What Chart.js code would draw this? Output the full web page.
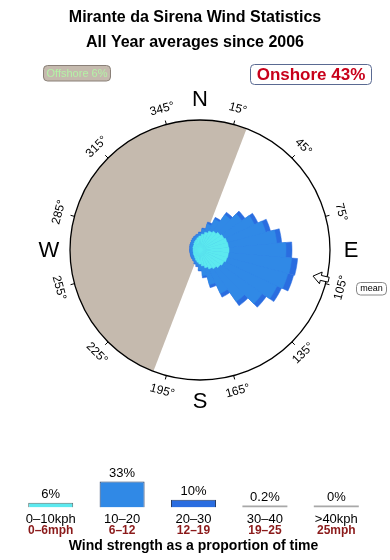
<!DOCTYPE html>
<html>
<head>
<meta charset="utf-8">
<title>Mirante da Sirena Wind Statistics</title>
<script src="https://cdn.jsdelivr.net/npm/chart.js@4/dist/chart.umd.min.js"></script>
<style>
  html, body { margin: 0; padding: 0; background: #fff; }
  #wrap { position: relative; width: 390px; height: 560px; overflow: hidden; }
  #rose { position: absolute; left: 0; top: 0; }
  #strength { position: absolute; left: 0; top: 455px; }
</style>
</head>
<body>
<div id="wrap">
  <canvas id="rose" width="390" height="560"></canvas>
  <canvas id="strength" width="390" height="105"></canvas>
</div>
<script>
const titleLines = ['Mirante da Sirena Wind Statistics', 'All Year averages since 2006'];

// sectors, degrees clockwise from north
const directions = [0, 10, 20, 30, 40, 50, 60, 70, 80, 90, 100, 110, 120, 130, 140, 150, 160, 170,
  180, 190, 200, 210, 220, 230, 240, 250, 260, 270, 280, 290, 300, 310, 320, 330, 340, 350];

// cumulative share of time per sector (outer ring = 13)
const upTo10 = [1.4, 1.6, 1.85, 2.1, 2.3, 2.5, 2.65, 2.8, 2.85, 2.9, 2.85, 2.8, 2.65, 2.5, 2.3, 2.1, 1.85, 1.6,
  1.4, 1.25, 1.1, 0.95, 0.85, 0.8, 0.75, 0.7, 0.7, 0.7, 0.7, 0.75, 0.75, 0.8, 0.9, 1.0, 1.1, 1.25];
const upTo20 = [1.7, 2.1, 2.7, 3.4, 4.3, 5.1, 6.0, 6.8, 7.7, 8.6, 9.2, 9.1, 8.5, 7.6, 6.3, 4.8, 3.6, 2.6,
  2.0, 1.6, 1.4, 1.25, 1.15, 1.1, 1.05, 1.0, 1.0, 1.0, 1.0, 1.05, 1.1, 1.15, 1.25, 1.35, 1.45, 1.55];
const upTo30 = [1.8, 2.2, 2.9, 3.6, 4.6, 5.5, 6.4, 7.3, 8.2, 9.2, 9.8, 9.7, 9.0, 8.1, 6.8, 5.2, 3.9, 2.8,
  2.1, 1.7, 1.5, 1.3, 1.2, 1.15, 1.1, 1.05, 1.05, 1.05, 1.05, 1.1, 1.15, 1.2, 1.3, 1.4, 1.5, 1.6];
const ringMax = 13;

const offshoreFrom = 201;
const offshoreTo = 21;
const offshorePct = 6;
const onshorePct = 43;
const meanDirection = 103;
const compassTicks = [15, 45, 75, 105, 135, 165, 195, 225, 255, 285, 315, 345];
const cardinals = [['N', 0], ['E', 90], ['S', 180], ['W', 270]];

// bottom strip
const strengthKph = ['0–10kph', '10–20', '20–30', '30–40', '>40kph'];
const strengthMph = ['0–6mph', '6–12', '12–19', '19–25', '25mph'];
const strengthPct = [6, 33, 10, 0.2, 0];
const strengthTitle = 'Wind strength as a proportion of time';

const cyan = '#5ce9ef';
const blue = '#3089e6';
const darkBlue = '#2a6de0';
const sans = '"Liberation Sans", Arial, Helvetica, sans-serif';

Chart.defaults.font.family = sans;

const rad = deg => (deg - 90) * Math.PI / 180;

function badge(ctx, x, y, w, h, fill, stroke) {
  ctx.beginPath();
  ctx.roundRect(x, y, w, h, 4);
  ctx.fillStyle = fill;
  ctx.fill();
  ctx.strokeStyle = stroke;
  ctx.lineWidth = 1;
  ctx.stroke();
}

const roseDecor = {
  id: 'roseDecor',
  beforeDraw(chart) {
    const r = chart.scales.r;
    const ctx = chart.ctx;
    ctx.save();
    ctx.fillStyle = '#c5baae';
    ctx.beginPath();
    ctx.moveTo(r.xCenter, r.yCenter);
    ctx.arc(r.xCenter, r.yCenter, r.drawingArea, rad(offshoreFrom), rad(offshoreTo + 360));
    ctx.closePath();
    ctx.fill();
    ctx.restore();
  },
  afterDraw(chart) {
    const r = chart.scales.r;
    const ctx = chart.ctx;
    const cx = r.xCenter, cy = r.yCenter, R = r.drawingArea;
    ctx.save();

    // title
    ctx.fillStyle = '#000';
    ctx.textAlign = 'center';
    ctx.textBaseline = 'middle';
    ctx.font = 'bold 16px ' + sans;
    ctx.fillText(titleLines[0], 195, 18);
    ctx.fillText(titleLines[1], 195, 43);

    // degree ticks and labels
    ctx.strokeStyle = '#000';
    ctx.lineWidth = 1;
    ctx.font = '12px ' + sans;
    compassTicks.forEach(b => {
      const a = rad(b);
      ctx.beginPath();
      ctx.moveTo(cx + R * Math.cos(a), cy + R * Math.sin(a));
      ctx.lineTo(cx + (R + 4) * Math.cos(a), cy + (R + 4) * Math.sin(a));
      ctx.stroke();
      let rot = b;
      if (rot > 90 && rot < 270) rot -= 180;
      else if (rot >= 270) rot -= 360;
      ctx.save();
      ctx.translate(cx + (R + 16) * Math.cos(a), cy + (R + 16) * Math.sin(a));
      ctx.rotate(rot * Math.PI / 180);
      ctx.fillText(b + '°', 0, 0);
      ctx.restore();
    });

    // cardinal letters
    ctx.font = '22px ' + sans;
    cardinals.forEach(([t, b]) => {
      const a = rad(b);
      ctx.fillText(t, cx + (R + 21) * Math.cos(a), cy + (R + 21) * Math.sin(a) + 1);
    });

    // mean direction arrow
    const a = rad(meanDirection);
    const ux = Math.cos(a), uy = Math.sin(a), vx = -uy, vy = ux;
    const pt = (d, s) => [cx + d * ux + s * vx, cy + d * uy + s * vy];
    const shape = [pt(R - 14, 0), pt(R - 6, 6), pt(R - 6, 2.5), pt(R + 2, 2.5),
      pt(R + 2, -2.5), pt(R - 6, -2.5), pt(R - 6, -6)];
    ctx.beginPath();
    shape.forEach((p, i) => i ? ctx.lineTo(p[0], p[1]) : ctx.moveTo(p[0], p[1]));
    ctx.closePath();
    ctx.fillStyle = '#fff';
    ctx.fill();
    ctx.strokeStyle = '#000';
    ctx.stroke();

    badge(ctx, 356.5, 282.5, 30, 12.5, '#fff', '#888');
    ctx.fillStyle = '#000';
    ctx.font = '9px ' + sans;
    ctx.fillText('mean', 371.5, 289);

    // offshore / onshore badges
    badge(ctx, 43.5, 65.5, 67, 15.5, '#c5baae', '#8a8078');
    ctx.fillStyle = '#b4f2a6';
    ctx.font = '11px ' + sans;
    ctx.fillText('Offshore ' + offshorePct + '%', 77, 73.5);

    badge(ctx, 250.5, 64.5, 121, 20, '#fff', '#5a6a92');
    ctx.fillStyle = '#c8001a';
    ctx.font = 'bold 17px ' + sans;
    ctx.fillText('Onshore ' + onshorePct + '%', 311, 75);

    ctx.restore();
  }
};

new Chart(document.getElementById('rose'), {
  type: 'polarArea',
  data: {
    labels: directions,
    datasets: [
      { label: '0-10kph', data: upTo10, backgroundColor: cyan, borderColor: cyan, borderWidth: 0.5 },
      { label: '10-20kph', data: upTo20, backgroundColor: blue, borderColor: blue, borderWidth: 0.5 },
      { label: '20-30kph', data: upTo30, backgroundColor: darkBlue, borderColor: darkBlue, borderWidth: 0.5 }
    ]
  },
  options: {
    responsive: false,
    animation: false,
    layout: { padding: { left: 70, right: 60, top: 120, bottom: 180 } },
    plugins: { legend: { display: false }, tooltip: { enabled: false } },
    scales: {
      r: {
        min: 0,
        max: ringMax,
        startAngle: -5,
        ticks: { display: false, stepSize: ringMax },
        grid: { color: '#000', lineWidth: 1.3 }
      }
    }
  },
  plugins: [roseDecor]
});

// value labels above the bars and the mph row under the kph ticks
const barLabels = {
  id: 'barLabels',
  afterDraw(chart) {
    const ctx = chart.ctx;
    const x = chart.scales.x;
    ctx.save();
    ctx.textAlign = 'center';
    ctx.textBaseline = 'middle';
    ctx.fillStyle = '#000';
    ctx.font = '13px ' + sans;
    chart.getDatasetMeta(0).data.forEach((bar, i) => {
      ctx.fillText(strengthPct[i] + '%', bar.x, bar.y - 8);
    });
    ctx.fillStyle = '#8b1a1a';
    ctx.font = 'bold 12px ' + sans;
    strengthMph.forEach((t, i) => {
      ctx.fillText(t, x.getPixelForTick(i), x.top + 23.5);
    });
    ctx.restore();
  }
};

new Chart(document.getElementById('strength'), {
  type: 'bar',
  data: {
    labels: strengthKph,
    datasets: [{
      data: strengthPct,
      backgroundColor: [cyan, blue, darkBlue, '#a8a8a8', '#a8a8a8'],
      borderColor: ['#5a7474', '#253c66', '#253c66', '#a8a8a8', '#a8a8a8'],
      borderWidth: [1, 1, 1, 0, 0],
      minBarLength: 2,
      categoryPercentage: 0.7,
      barPercentage: 0.9
    }]
  },
  options: {
    responsive: false,
    animation: false,
    layout: { padding: { left: 15, right: 18, top: 21, bottom: 0 } },
    plugins: { legend: { display: false }, tooltip: { enabled: false } },
    scales: {
      y: { display: false, min: 0, max: 40 },
      x: {
        afterFit: s => { s.height = 52.5; },
        grid: { display: false, drawTicks: false },
        border: { display: false },
        ticks: { padding: 5, color: '#000', maxRotation: 0, autoSkip: false, font: { size: 13, lineHeight: 1 } },
        title: { display: true, text: strengthTitle, color: '#000', font: { size: 14, weight: 'bold', lineHeight: 1 }, padding: { top: 0, bottom: 7 } }
      }
    }
  },
  plugins: [barLabels]
});
</script>
</body>
</html>
